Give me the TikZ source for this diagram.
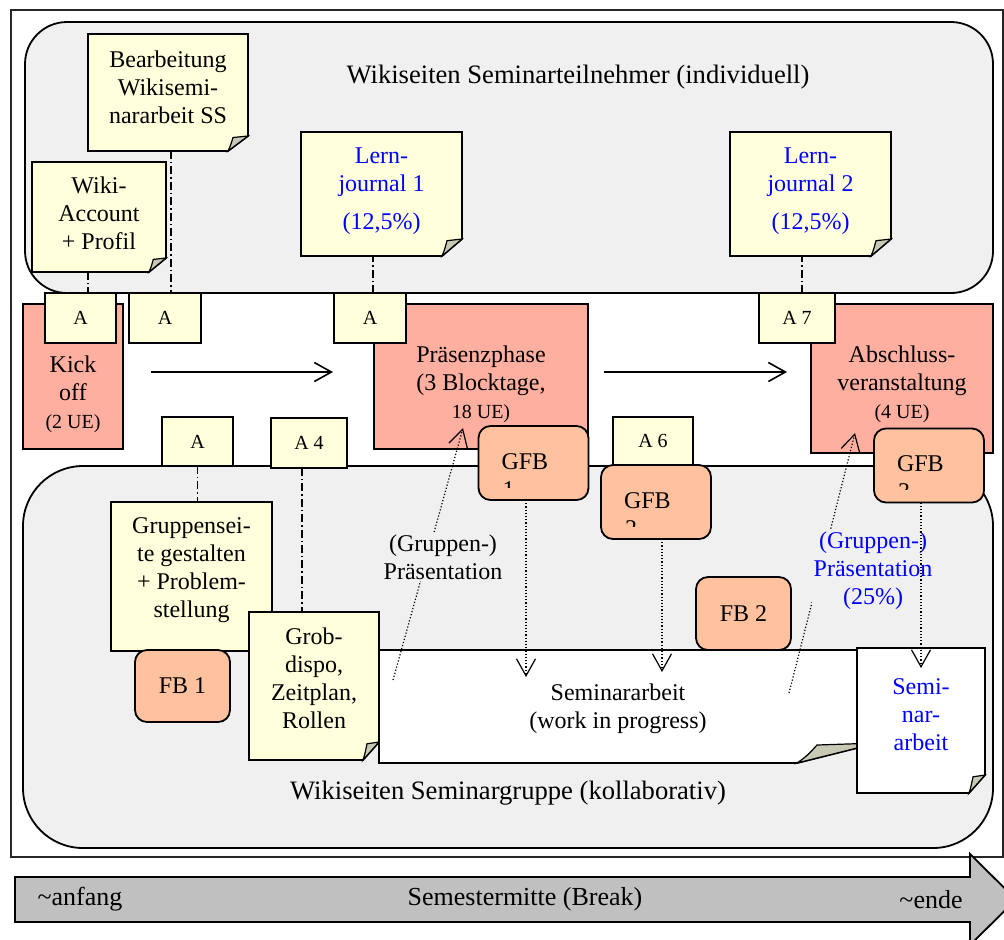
\documentclass[tikz,border=0pt]{standalone}
\usepackage{fontspec}
\setmainfont{Liberation Serif}
\usetikzlibrary{arrows.meta}

\definecolor{hgrau}{HTML}{F0F0F0}
\definecolor{notizgelb}{HTML}{FFFFDC}
\definecolor{phasenrot}{HTML}{FFAFA0}
\definecolor{fborange}{HTML}{FFC19E}
\definecolor{knickgrau}{HTML}{C8C8B4}
\definecolor{pfeilgrau}{HTML}{C0C0C0}
\definecolor{blau}{HTML}{0000FF}

\newcommand{\klein}{\fontsize{10}{12}\selectfont}
\newcommand{\platz}[1]{\rule[-#1]{0pt}{#1}}

% Notizzettel mit Eselsohr
\makeatletter
\pgfkeys{/pgf/knick x/.initial=9pt,/pgf/knick y/.initial=8pt}
\def\notiz@ecken{%
  \southwest\edef\notiz@xa{\the\pgf@x}\edef\notiz@ya{\the\pgf@y}%
  \northeast\edef\notiz@xb{\the\pgf@x}\edef\notiz@yb{\the\pgf@y}%
  \pgfmathsetlengthmacro\notiz@kx{\pgfkeysvalueof{/pgf/knick x}}%
  \pgfmathsetlengthmacro\notiz@ky{\pgfkeysvalueof{/pgf/knick y}}%
}
\pgfdeclareshape{notiz}{%
  \inheritsavedanchors[from=rectangle]%
  \inheritanchorborder[from=rectangle]%
  \inheritanchor[from=rectangle]{center}%
  \inheritanchor[from=rectangle]{north}%
  \inheritanchor[from=rectangle]{south}%
  \inheritanchor[from=rectangle]{east}%
  \inheritanchor[from=rectangle]{west}%
  \inheritanchor[from=rectangle]{north east}%
  \inheritanchor[from=rectangle]{north west}%
  \inheritanchor[from=rectangle]{south east}%
  \inheritanchor[from=rectangle]{south west}%
  \backgroundpath{%
    \notiz@ecken
    \pgfpathmoveto{\pgfpoint{\notiz@xa}{\notiz@ya}}%
    \pgfpathlineto{\pgfpoint{\notiz@xa}{\notiz@yb}}%
    \pgfpathlineto{\pgfpoint{\notiz@xb}{\notiz@yb}}%
    \pgfpathlineto{\pgfpoint{\notiz@xb}{\notiz@ya+\notiz@ky}}%
    \pgfpathlineto{\pgfpoint{\notiz@xb-\notiz@kx}{\notiz@ya}}%
    \pgfpathclose
  }%
  \beforebackgroundpath{%
    \begin{pgfscope}%
    \notiz@ecken
    \pgfsetlinewidth{0.6pt}%
    \pgfpathmoveto{\pgfpoint{\notiz@xb-\notiz@kx}{\notiz@ya}}%
    \pgfpathcurveto{\pgfpoint{\notiz@xb-0.85*\notiz@kx}{\notiz@ya+0.4*\notiz@ky}}%
                   {\pgfpoint{\notiz@xb-0.8*\notiz@kx}{\notiz@ya+0.7*\notiz@ky}}%
                   {\pgfpoint{\notiz@xb-0.75*\notiz@kx}{\notiz@ya+0.9*\notiz@ky}}%
    \pgfpathlineto{\pgfpoint{\notiz@xb}{\notiz@ya+\notiz@ky}}%
    \pgfpathclose
    \pgfsetfillcolor{knickgrau}%
    \pgfusepath{fill,stroke}%
    \end{pgfscope}%
  }%
}
\makeatother

\tikzset{
  >={Straight Barb[length=8.5pt,width=9.5pt]},
  bereich/.style={rectangle, draw=black, line width=0.9pt, fill=hgrau,
    inner sep=0pt, outer sep=0pt},
  titel/.style={font=\fontsize{13.3}{15}\selectfont},
  notiz/.style={shape=notiz, draw=black, line width=0.9pt, fill=notizgelb,
    align=center, inner sep=0pt, outer sep=0pt},
  knick/.style 2 args={/pgf/knick x=#1, /pgf/knick y=#2},
  kasten/.style={rectangle, draw=black, line width=0.9pt, fill=notizgelb,
    font=\klein, inner sep=0pt, outer sep=0pt},
  phase/.style={rectangle, draw=black, line width=0.9pt, fill=phasenrot,
    align=center, inner sep=0pt, outer sep=0pt},
  rundbox/.style={rectangle, rounded corners=6pt, draw=black, line width=0.9pt,
    fill=fborange, inner sep=0pt, outer sep=0pt},
  gfb/.style={rundbox, minimum width=55pt, minimum height=37pt,
    path picture={
      \clip (path picture bounding box.north west)
        rectangle ([yshift=6.5pt]path picture bounding box.south east);
      \node[anchor=base west, inner sep=0pt, minimum width=0pt, minimum height=0pt]
        at ([xshift=11.5pt,yshift=-21.5pt]path picture bounding box.north west) {GFB};
      \node[anchor=base west, inner sep=0pt, minimum width=0pt, minimum height=0pt]
        at ([xshift=12pt,yshift=-35.5pt]path picture bounding box.north west) {#1};
    }},
  strichpunkt/.style={line width=0.6pt, dash pattern=on 4pt off 1.5pt on 0.7pt off 1.5pt},
  punktpfeil/.style={->, line width=0.6pt, dash pattern=on 0.6pt off 1pt},
  zeitpfeil/.style={->, line width=0.8pt},
}

\begin{document}
\begin{tikzpicture}[x=0.5pt, y=-0.5pt, font=\fontsize{12}{14}\selectfont]

\useasboundingbox (0,0) rectangle (1004,939);
\clip (0,0) rectangle (1004,939);
\draw[line width=0.7pt, draw=black!85] (11,10) rectangle (1003,857);

%Bereiche
\node[bereich, rounded corners=21pt, minimum width=484pt, minimum height=135.5pt] (oben) at (509,157.5) {};
\node[bereich, rounded corners=30pt, minimum width=485pt, minimum height=191pt] (unten) at (508,657) {};
\node[titel] (titelOben) at (578,77) {Wikiseiten Seminarteilnehmer (individuell)};
\node[titel] (titelUnten) at (508,793) {Wikiseiten Seminargruppe (kollaborativ)};

%Notizen oben
\node[notiz, knick={10pt}{7.5pt}, minimum width=80pt, minimum height=58.5pt] (bearb) at (168,92.5) {Bearbeitung\\Wikisemi-\\nararbeit SS\platz{5.7pt}};
\node[notiz, knick={8.5pt}{7pt}, minimum width=67pt, minimum height=55pt] (wiki) at (99,217) {Wiki-\\Account\\+ Profil\platz{4.2pt}};
\node[notiz, knick={10pt}{8.5pt}, minimum width=80.5pt, minimum height=62pt, text=blau] (lern1) at (381.5,194) {Lern-\\journal 1\\[5pt](12,5\%)\platz{5.4pt}};
\node[notiz, knick={10pt}{8.5pt}, minimum width=80.5pt, minimum height=62pt, text=blau] (lern2) at (810.5,194) {Lern-\\journal 2\\[5pt](12,5\%)\platz{5.4pt}};

%Phasen
\node[phase, minimum width=50pt, minimum height=72.5pt] (kick) at (73,376.5) {\rule{0pt}{25.7pt}Kick\\off\\{\klein(2 UE)}};
\node[phase, minimum width=107pt, minimum height=72.5pt] (praesenz) at (481,376.5) {\rule{0pt}{15.7pt}Präsenzphase\\(3 Blocktage,\\{\klein 18 UE)}};
\node[phase, minimum width=91pt, minimum height=74.5pt] (abschluss) at (902,378.5) {\rule{0pt}{13.7pt}Abschluss-\\veranstaltung\\{\klein(4 UE)}};

%Aufgaben
\node[kasten, minimum width=35.5pt, minimum height=25pt] (a1) at (80.5,318) {A};
\node[kasten, minimum width=36pt, minimum height=25pt] (a2) at (165,318) {A};
\node[kasten, minimum width=36pt, minimum height=25pt] (a3) at (370,318) {A};
\node[kasten, minimum width=38pt, minimum height=25pt] (a7) at (797,318) {A 7};
\node[kasten, minimum width=35.5pt, minimum height=24.5pt] (a5) at (197.5,441.5) {A};
\node[kasten, minimum width=38pt, minimum height=25pt] (a4) at (309,443) {A 4};
\node[kasten, minimum width=40pt, minimum height=24pt] (a6) at (653,441) {A 6};

%Notizen unten
\node[notiz, minimum width=80.5pt, minimum height=74.5pt] (gruppe) at (191.5,576.5) {Gruppensei-\\te gestalten\\+ Problem-\\stellung\platz{8.5pt}};
\node[rundbox, minimum width=47.5pt, minimum height=36pt] (fb1) at (182.5,686) {FB 1};
\node[notiz, knick={8pt}{9pt}, minimum width=65pt, minimum height=74pt] (grob) at (314,686) {Grob-\\dispo,\\Zeitplan,\\Rollen\platz{8.2pt}};
\node[notiz, knick={40pt}{10pt}, fill=white, minimum width=249pt, minimum height=56.5pt] (wip) at (628,706.5) {\rule{0pt}{11pt}Seminararbeit\hspace*{10pt}\\(work in progress)\hspace*{10pt}};
\node[notiz, knick={8pt}{9pt}, fill=white, text=blau, minimum width=64pt, minimum height=72.5pt] (semi) at (921,720.5) {Semi-\\nar-\\arbeit\platz{5.7pt}};
\node[rundbox, minimum width=47.5pt, minimum height=36.5pt] (fb2) at (743.5,613.5) {FB 2};

%Gruppenfeedback
\node[gfb=1] (gfb1) at (533.5,463) {};
\node[gfb=2] (gfb2) at (656,502) {};
\node[gfb=3] (gfb3) at (929,465.5) {};

%Linien
\draw[strichpunkt] ([xshift=-5.5pt]wiki.south) -- ([xshift=-5.5pt]wiki.south |- a1.north);
\draw[strichpunkt] ([xshift=1.5pt]bearb.south) -- ([xshift=1.5pt]bearb.south |- a2.north);
\draw[strichpunkt] ([xshift=1.5pt]a3.north) -- ([xshift=1.5pt]a3.north |- lern1.south);
\draw[strichpunkt] ([xshift=2.5pt]a7.north) -- ([xshift=2.5pt]a7.north |- lern2.south);
\draw[strichpunkt] (a5.south) -- (a5.south |- gruppe.north);
\draw[strichpunkt] ([xshift=-3.5pt]a4.south) -- ([xshift=-3.5pt]a4.south |- grob.north);

\coordinate (pa) at (151,372);
\coordinate (pb) at (333,372);
\coordinate (pc) at (604,372);
\coordinate (pd) at (787,372);
\draw[zeitpfeil] (pa) -- (pb);
\draw[zeitpfeil] (pc) -- (pd);

\coordinate (q1) at (393,680);
\coordinate (t1) at (463,428);
\draw[punktpfeil] (q1) -- (t1);
\node[fill=hgrau, inner sep=1pt, align=center] (praes1) at (443,557) {(Gruppen-)\\Präsentation};
\coordinate (q2) at (789,693);
\coordinate (t2) at (855,433);
\draw[punktpfeil] (q2) -- (t2);
\node[fill=hgrau, inner sep=1pt, align=center, text=blau] (praes2) at (873,571) {(Gruppen-)\\Präsentation\\(25\%)};

\coordinate (z1) at (526,677);
\coordinate (z2) at (662,672);
\coordinate (z3) at (921,668);
\draw[punktpfeil] (gfb1.south -| z1) -- (z1);
\draw[punktpfeil] (gfb2.south -| z2) -- (z2);
\draw[punktpfeil] (gfb3.south -| z3) -- (z3);

%Zeitachse
\draw[line width=0.9pt, fill=pfeilgrau] (15,877) -- (970,877) -- (970,854) -- (1016,899.5) -- (970,945) -- (970,922) -- (15,922) -- cycle;
\node[font=\fontsize{13}{15}\selectfont] (anfang) at (80,899.5) {\textasciitilde anfang};
\node[font=\fontsize{13}{15}\selectfont] (mitte) at (525,899.5) {Semestermitte (Break)};
\node[font=\fontsize{13}{15}\selectfont] (ende) at (931,899.5) {\textasciitilde ende};

\end{tikzpicture}
\end{document}
